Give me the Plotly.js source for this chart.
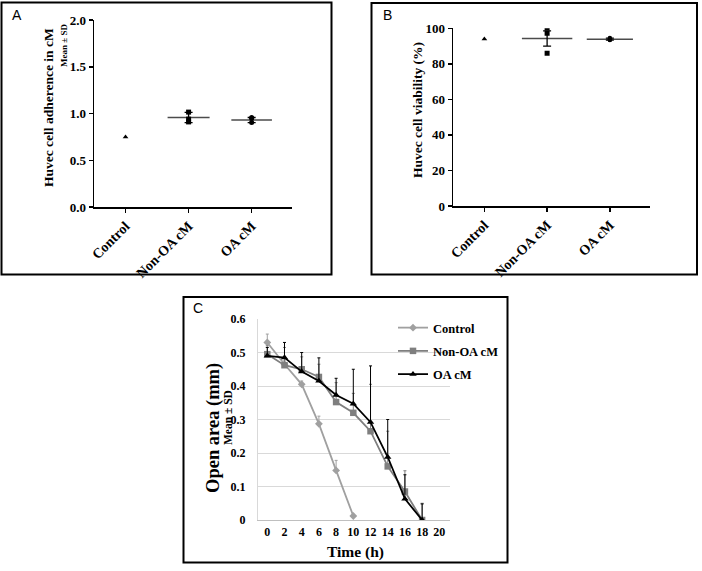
<!DOCTYPE html>
<html>
<head>
<meta charset="utf-8">
<script src="https://cdn.plot.ly/plotly-3.0.1.min.js"></script>
<style>html,body{margin:0;padding:0;background:#fff;}#chart{width:702px;height:571px;}</style>
</head>
<body>
<div id="chart"></div>
<script>
// ---------- DATA ----------
const groupCategories = ['Control', 'Non-OA cM', 'OA cM'];

// Panel A: Huvec cell adherence in cM
const adhControl = [0.75];
const adhNonOA = [1.015, 0.91, 0.94];
const adhOA = [0.957, 0.904, 0.946];
const adhMean = [0.957, 0.93];      // Non-OA, OA
const adhSD = [0.055, 0.027];

// Panel B: Huvec cell viability (%)
const viaControl = [94.0];
const viaNonOA = [100.2, 97.2, 85.9];
const viaOA = [93.4, 94.5, 93.6];
const viaMean = [94.3, 93.9];
const viaSD = [4.3, 0.6];

// Panel C: Open area (mm) over time
const timeTicks = [0, 2, 4, 6, 8, 10, 12, 14, 16, 18, 20];
const timeControl = [0, 2, 4, 6, 8, 10];
const areaControl = [0.53, 0.465, 0.405, 0.287, 0.148, 0.012];
const errControl = [0.025, 0.01, 0.01, 0.023, 0.03, 0.0];
const timeNonOA = [0, 2, 4, 6, 8, 10, 12, 14, 16, 18];
const areaNonOA = [0.495, 0.462, 0.45, 0.427, 0.352, 0.32, 0.265, 0.16, 0.085, 0.0];
const errNonOA = [0.025, 0.053, 0.037, 0.038, 0.058, 0.058, 0.14, 0.105, 0.062, 0.05];
const timeOA = [0, 2, 4, 6, 8, 10, 12, 14, 16, 18];
const areaOA = [0.49, 0.485, 0.443, 0.415, 0.373, 0.347, 0.292, 0.188, 0.063, 0.0];
const errOA = [0.025, 0.045, 0.057, 0.069, 0.05, 0.103, 0.168, 0.112, 0.072, 0.048];

// ---------- LAYOUT HELPERS ----------
const W = 702, H = 571;
const px = x => x / W;
const py = y => 1 - y / H;
const SERIF = '"Liberation Serif", "Times New Roman", serif';
const SANS = '"Liberation Sans", Arial, sans-serif';

function rep(v, n) { return Array(n).fill(v); }

const traces = [];

// Panel A scatter
traces.push({x: rep(groupCategories[0], adhControl.length), y: adhControl, xaxis: 'x', yaxis: 'y', type: 'scatter', mode: 'markers',
  marker: {symbol: 'triangle-up', size: 5, color: '#000'}, showlegend: false});
traces.push({x: rep(groupCategories[1], adhNonOA.length), y: adhNonOA, xaxis: 'x', yaxis: 'y', type: 'scatter', mode: 'markers',
  marker: {symbol: 'square', size: 5, color: '#000'}, showlegend: false});
traces.push({x: rep(groupCategories[2], adhOA.length), y: adhOA, xaxis: 'x', yaxis: 'y', type: 'scatter', mode: 'markers',
  marker: {symbol: 'circle', size: 5, color: '#000'}, showlegend: false});
// mean + SD
traces.push({x: groupCategories.slice(1), y: adhMean, xaxis: 'x', yaxis: 'y', type: 'scatter', mode: 'markers',
  marker: {symbol: 'line-ew', size: [30, 29], color: '#000', line: {width: 1.5, color: '#000'}},
  error_y: {type: 'data', array: adhSD, visible: true, color: '#000', thickness: 1.3, width: [14, 10.5]}, showlegend: false});

// Panel B scatter
traces.push({x: rep(groupCategories[0], viaControl.length), y: viaControl, xaxis: 'x2', yaxis: 'y2', type: 'scatter', mode: 'markers',
  marker: {symbol: 'triangle-up', size: 5, color: '#000'}, showlegend: false});
traces.push({x: rep(groupCategories[1], viaNonOA.length), y: viaNonOA, xaxis: 'x2', yaxis: 'y2', type: 'scatter', mode: 'markers',
  marker: {symbol: 'square', size: 5, color: '#000'}, showlegend: false});
traces.push({x: rep(groupCategories[2], viaOA.length), y: viaOA, xaxis: 'x2', yaxis: 'y2', type: 'scatter', mode: 'markers',
  marker: {symbol: 'circle', size: 4.5, color: '#000'}, showlegend: false});
traces.push({x: groupCategories.slice(1), y: viaMean, xaxis: 'x2', yaxis: 'y2', type: 'scatter', mode: 'markers',
  marker: {symbol: 'line-ew', size: [36, 33], color: '#000', line: {width: 1.5, color: '#000'}},
  error_y: {type: 'data', array: viaSD, visible: true, color: '#000', thickness: 1.3, width: [11, 8]}, showlegend: false});

// Panel C lines
traces.push({x: timeControl, y: areaControl, xaxis: 'x3', yaxis: 'y3', type: 'scatter', mode: 'lines+markers', name: 'Control',
  line: {color: '#a0a0a0', width: 1.8}, marker: {symbol: 'diamond', size: 6, color: '#a0a0a0'}, legendgroup: 'a',
  error_y: {type: 'data', symmetric: false, array: errControl, arrayminus: rep(0, errControl.length), color: '#a0a0a0', thickness: 1, width: 1.5}});
traces.push({x: timeNonOA, y: areaNonOA, xaxis: 'x3', yaxis: 'y3', type: 'scatter', mode: 'lines+markers', name: 'Non-OA cM',
  line: {color: '#7f7f7f', width: 1.8}, marker: {symbol: 'square', size: 6.5, color: '#7f7f7f'}, legendgroup: 'b',
  error_y: {type: 'data', symmetric: false, array: errNonOA, arrayminus: rep(0, errNonOA.length), color: '#7f7f7f', thickness: 1, width: 1.5}});
traces.push({x: timeOA, y: areaOA, xaxis: 'x3', yaxis: 'y3', type: 'scatter', mode: 'lines+markers', name: 'OA cM',
  line: {color: '#000', width: 1.8}, marker: {symbol: 'triangle-up', size: 6.5, color: '#000'}, legendgroup: 'c',
  error_y: {type: 'data', symmetric: false, array: errOA, arrayminus: rep(0, errOA.length), color: '#000', thickness: 1, width: 1.5}});

const catAxis = (dom, anchor) => ({
  domain: dom, anchor: anchor, type: 'category', range: [-0.5, 2.64],
  showline: true, linecolor: '#000', linewidth: 1.5, ticks: 'outside', ticklen: 4, tickwidth: 1.5, tickcolor: '#000',
  tickangle: -45, tickfont: {family: SERIF, size: 14, color: '#000', weight: 'bold'},
  showgrid: false, zeroline: false, fixedrange: true
});
const valAxis = (dom, anchor, range, dtick, fmt) => ({
  domain: dom, anchor: anchor, range: range, dtick: dtick, tickformat: fmt,
  showline: true, linecolor: '#000', linewidth: 1.5, ticks: 'outside', ticklen: 4, tickwidth: 1.5, tickcolor: '#000',
  tickfont: {family: SERIF, size: 13, color: '#000', weight: 'bold'},
  showgrid: false, zeroline: false, fixedrange: true
});

function ann(text, x, y, size, family, angle) {
  return {text: text, x: px(x), y: py(y), xref: 'paper', yref: 'paper', showarrow: false,
    xanchor: 'center', yanchor: 'middle', textangle: angle || 0,
    font: {family: family, size: size, color: '#000'}};
}

const layout = {
  width: W, height: H, margin: {l: 0, r: 0, t: 0, b: 0},
  paper_bgcolor: '#fff', plot_bgcolor: 'rgba(0,0,0,0)',
  xaxis: catAxis([px(94), px(292)], 'y'),
  yaxis: valAxis([py(207), py(20)], 'x', [0, 2], 0.5, '.1f'),
  xaxis2: catAxis([px(453), px(650)], 'y2'),
  yaxis2: valAxis([py(206), py(28.3)], 'x2', [0, 100], 20, 'd'),
  xaxis3: {domain: [px(258), px(450)], anchor: 'y3', range: [-1.08, 21.24], tickvals: timeTicks,
    showline: true, linecolor: '#bfbfbf', linewidth: 1, ticks: '', showgrid: false, zeroline: false,
    tickfont: {family: SERIF, size: 12, color: '#000', weight: 'bold'}, ticklabelstandoff: 1, fixedrange: true},
  yaxis3: {domain: [py(520), py(319)], anchor: 'x3', range: [0, 0.6], dtick: 0.1,
    showline: true, linecolor: '#d9d9d9', linewidth: 1, ticks: '', showgrid: true, gridcolor: '#d9d9d9', gridwidth: 1,
    zeroline: false, tickfont: {family: SERIF, size: 12, color: '#000', weight: 'bold'}, ticklabelstandoff: 9, fixedrange: true},
  showlegend: true,
  legend: {x: px(393), y: py(313), xanchor: 'left', yanchor: 'top', bgcolor: 'rgba(0,0,0,0)',
    font: {family: SERIF, size: 12.5, color: '#000', weight: 'bold'}, itemwidth: 30, tracegroupgap: 4},
  shapes: [
    {type: 'rect', xref: 'paper', yref: 'paper', x0: px(1.5), x1: px(331.5), y0: py(274.5), y1: py(2.5), line: {color: '#000', width: 2}},
    {type: 'rect', xref: 'paper', yref: 'paper', x0: px(371.5), x1: px(697), y0: py(274.5), y1: py(3), line: {color: '#000', width: 2}},
    {type: 'rect', xref: 'paper', yref: 'paper', x0: px(183.5), x1: px(507.5), y0: py(562.5), y1: py(297), line: {color: '#000', width: 2}}
  ],
  annotations: [
    ann('A', 17, 15, 14, SANS),
    ann('B', 387, 15, 14, SANS),
    ann('C', 198, 308, 14, SANS),
    ann('<b>Huvec cell adherence in cM</b>', 49, 108, 13.5, SERIF, -90),
    ann('<b>Mean ± SD</b>', 64, 46, 9, SERIF, -90),
    ann('<b>Huvec cell viability (%)</b>', 418, 110, 13.5, SERIF, -90),
    ann('<b>Open area (mm)</b>', 213, 428, 18.5, SERIF, -90),
    ann('<b>Mean ± SD</b>', 228, 418, 11.5, SERIF, -90),
    ann('<b>Time (h)</b>', 355, 552, 15.5, SERIF)
  ]
};

Plotly.newPlot('chart', traces, layout, {staticPlot: true, displayModeBar: false});
</script>
</body>
</html>
